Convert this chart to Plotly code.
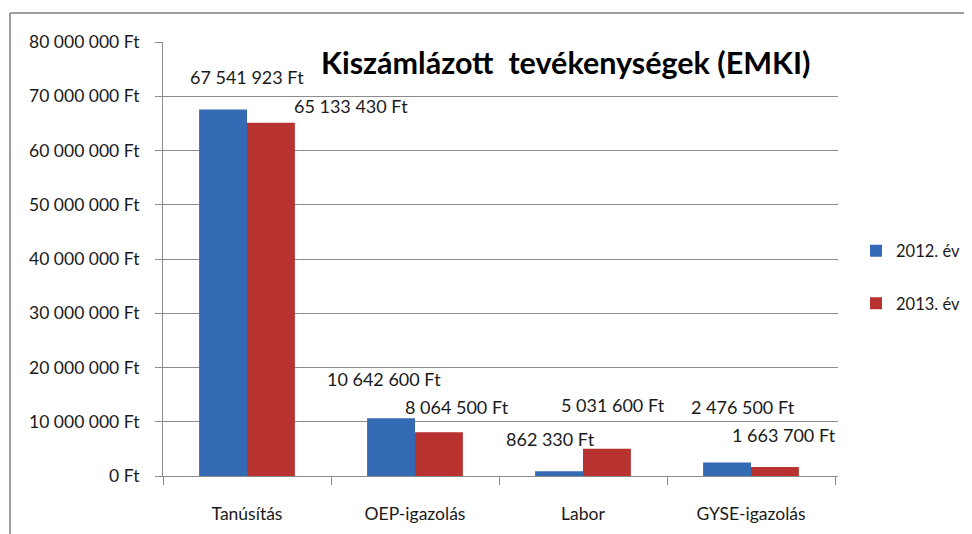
import plotly.graph_objects as go

categories = ["Tanúsítás", "OEP-igazolás", "Labor", "GYSE-igazolás"]
values_2012 = [67541923, 10642600, 862330, 2476500]
values_2013 = [65133430, 8064500, 5031600, 1663700]
series_names = ["2012. év", "2013. év"]
tick_vals = [0, 10000000, 20000000, 30000000, 40000000, 50000000, 60000000, 70000000, 80000000]
tick_text = ["0 Ft", "10 000 000 Ft", "20 000 000 Ft", "30 000 000 Ft", "40 000 000 Ft",
             "50 000 000 Ft", "60 000 000 Ft", "70 000 000 Ft", "80 000 000 Ft"]
title_text = "Kiszámlázott  tevékenységek (EMKI)"

# label offsets (pixels) relative to bar top centre
shift_2012 = [(24, 20), (-7, 26), (-9, 19), (16, 43)]
shift_2013 = [(80, 4), (18, 12), (6, 31), (9, 19)]

FONT = "Lato"
FS = 17.5
OFF = 8  # page body margin

# plot area in page pixels
PL, PR, PT, PB = 163, 838, 42, 476
PW, PH = PR - PL, PB - PT

def px(x):
    return (x - PL) / PW

def py(y):
    return (PB - y) / PH

def fmt(v):
    return f"{v:,}".replace(",", " ") + " Ft"

fig = go.Figure()
fig.add_trace(go.Bar(x=categories, y=values_2012, name=series_names[0],
                     marker=dict(color="#3469B4", line=dict(width=0)),
                     legendgroup="a"))
fig.add_trace(go.Bar(x=categories, y=values_2013, name=series_names[1],
                     marker=dict(color="#B83230", line=dict(width=0)),
                     legendgroup="b"))

annotations = []
for vals, shifts, off in ((values_2012, shift_2012, -0.5), (values_2013, shift_2013, 0.5)):
    for i, (c, v) in enumerate(zip(categories, vals)):
        annotations.append(dict(
            x=c, y=v, xref="x", yref="y", text=fmt(v), showarrow=False,
            xanchor="center", yanchor="bottom",
            xshift=off * 48 + shifts[i][0], yshift=shifts[i][1],
            font=dict(family=FONT, size=18, color="#1a1a1a")))
annotations.append(dict(
    x=px(565), y=py(62), xref="paper", yref="paper",
    text="<b>" + title_text + "</b>", showarrow=False, xanchor="center", yanchor="middle",
    font=dict(family=FONT, size=30.5, color="#000000")))

W, H = 972 - OFF, 534 - OFF
fig.update_layout(
    width=W, height=H,
    margin=dict(l=PL - OFF, r=W + OFF - PR, t=PT - OFF, b=H + OFF - PB, autoexpand=False),
    paper_bgcolor="white", plot_bgcolor="white",
    barmode="group", bargap=0.43, bargroupgap=0,
    font=dict(family=FONT, size=FS, color="#1a1a1a"),
    showlegend=True,
    legend=dict(x=px(856), y=py(277), xanchor="left", yanchor="middle",
                font=dict(family=FONT, size=16.5), tracegroupgap=28,
                traceorder="grouped", itemwidth=30),
    annotations=annotations,
    shapes=[
        dict(type="line", xref="paper", yref="paper", x0=px(10), x1=px(990),
             y0=py(13), y1=py(13), line=dict(color="#7f7f7f", width=1.5)),
        dict(type="line", xref="paper", yref="paper", x0=px(10), x1=px(10),
             y0=py(13), y1=py(560), line=dict(color="#7f7f7f", width=1.5)),
    ],
)
fig.update_yaxes(range=[0, 80000000], tickvals=tick_vals, ticktext=tick_text,
                 showgrid=True, gridcolor="#8c8c8c", gridwidth=1, automargin=False,
                 showline=True, linecolor="#8c8c8c", ticks="outside", ticklen=7,
                 tickcolor="#8c8c8c", zeroline=False, ticklabelstandoff=12)
fig.update_xaxes(showline=True, linecolor="#8c8c8c", ticks="outside", tickson="boundaries",
                 automargin=False, ticklen=8, tickcolor="#8c8c8c", ticklabelstandoff=22)

fig.write_html("out.html")
